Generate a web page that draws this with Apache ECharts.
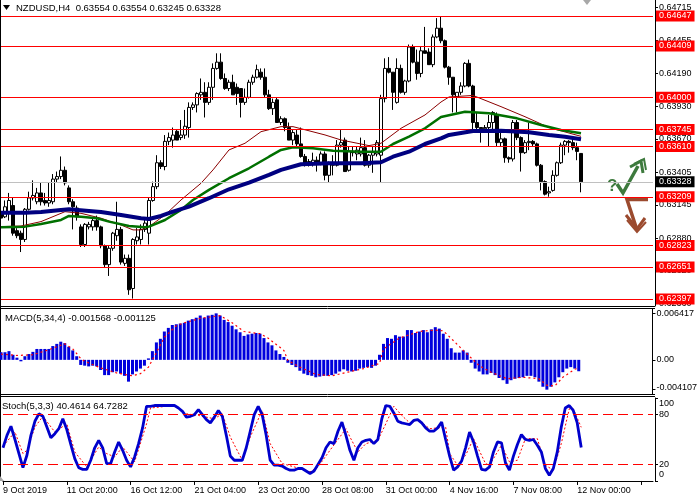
<!DOCTYPE html>
<html><head><meta charset="utf-8">
<script src="https://cdn.jsdelivr.net/npm/echarts@6/dist/echarts.min.js"></script>
<style>html,body{margin:0;padding:0;background:#fff}#c{width:700px;height:500px}</style>
</head><body><div id="c"></div>
<script>
const symbolName = 'NZDUSD,H4';
const tickLabels = ['9 Oct 2019','11 Oct 20:00','16 Oct 12:00','21 Oct 04:00','23 Oct 20:00','28 Oct 08:00','31 Oct 00:00','4 Nov 16:00','7 Nov 08:00','12 Nov 00:00'];
const tickEvery = 16;
const slotCount = 164;
// [open, close, low, high]
const candles = [
[0.6308,0.6304,0.6302,0.6320],[0.6305,0.6313,0.6304,0.6318],[0.6308,0.6318,0.6302,0.6324],[0.6314,0.6292,0.6290,0.6320],
[0.6294,0.6290,0.6288,0.6296],[0.6292,0.6287,0.6277,0.6294],[0.6287,0.6311,0.6285,0.6312],[0.6311,0.6320,0.6310,0.6325],
[0.6320,0.6322,0.6318,0.6334],[0.6317,0.6324,0.6315,0.6328],[0.6324,0.6317,0.6314,0.6332],[0.6318,0.6316,0.6314,0.6324],
[0.6316,0.6318,0.6313,0.6332],[0.6317,0.6335,0.6315,0.6339],[0.6335,0.6337,0.6332,0.6341],[0.6337,0.6342,0.6335,0.6353],
[0.6342,0.6332,0.6330,0.6345],[0.6328,0.6317,0.6315,0.6330],[0.6317,0.6313,0.6295,0.6319],[0.6312,0.6305,0.6302,0.6314],
[0.6297,0.6283,0.6281,0.6299],[0.6283,0.6299,0.6281,0.6300],[0.6297,0.6299,0.6295,0.6301],[0.6297,0.6302,0.6294,0.6304],
[0.6302,0.6297,0.6294,0.6306],[0.6297,0.6282,0.6280,0.6298],[0.6282,0.6267,0.6265,0.6283],[0.6267,0.6280,0.6258,0.6282],
[0.6280,0.6292,0.6278,0.6293],[0.6290,0.6295,0.6286,0.6317],[0.6295,0.6269,0.6267,0.6297],[0.6268,0.6272,0.6266,0.6275],
[0.6272,0.6247,0.6243,0.6275],[0.6248,0.6287,0.6240,0.6288],[0.6286,0.6289,0.6283,0.6296],[0.6287,0.6295,0.6283,0.6299],
[0.6295,0.6300,0.6293,0.6304],[0.6292,0.6318,0.6283,0.6320],[0.6318,0.6329,0.6317,0.6333],[0.6329,0.6348,0.6327,0.6354],
[0.6348,0.6345,0.6343,0.6350],[0.6345,0.6365,0.6342,0.6370],[0.6365,0.6368,0.6362,0.6372],[0.6366,0.6370,0.6360,0.6376],
[0.6373,0.6366,0.6366,0.6374],[0.6368,0.6370,0.6366,0.6382],[0.6370,0.6377,0.6367,0.6390],[0.6376,0.6392,0.6368,0.6396],
[0.6392,0.6394,0.6390,0.6396],[0.6394,0.6403,0.6388,0.6404],[0.6402,0.6404,0.6398,0.6415],[0.6404,0.6396,0.6384,0.6412],
[0.6396,0.6408,0.6394,0.6412],[0.6408,0.6423,0.6398,0.6427],[0.6423,0.6428,0.6422,0.6435],[0.6428,0.6415,0.6414,0.6435],
[0.6415,0.6407,0.6406,0.6419],[0.6407,0.6412,0.6405,0.6414],[0.6412,0.6402,0.6402,0.6418],[0.6408,0.6403,0.6394,0.6411],
[0.6407,0.6396,0.6384,0.6407],[0.6396,0.6400,0.6394,0.6407],[0.6400,0.6412,0.6399,0.6414],[0.6412,0.6416,0.6410,0.6418],
[0.6416,0.6422,0.6415,0.6426],[0.6420,0.6416,0.6414,0.6423],[0.6416,0.6402,0.6400,0.6423],[0.6402,0.6391,0.6390,0.6406],
[0.6391,0.6396,0.6386,0.6399],[0.6398,0.6380,0.6380,0.6400],[0.6380,0.6383,0.6378,0.6385],[0.6383,0.6376,0.6373,0.6384],
[0.6376,0.6366,0.6366,0.6380],[0.6366,0.6372,0.6362,0.6374],[0.6370,0.6363,0.6360,0.6374],[0.6363,0.6353,0.6352,0.6376],
[0.6353,0.6346,0.6345,0.6355],[0.6346,0.6349,0.6345,0.6351],[0.6348,0.6350,0.6345,0.6356],[0.6350,0.6347,0.6341,0.6353],
[0.6347,0.6355,0.6346,0.6357],[0.6355,0.6338,0.6334,0.6357],[0.6338,0.6348,0.6332,0.6349],[0.6348,0.6346,0.6338,0.6354],
[0.6346,0.6362,0.6345,0.6366],[0.6362,0.6364,0.6360,0.6374],[0.6366,0.6341,0.6341,0.6368],[0.6342,0.6357,0.6341,0.6361],
[0.6357,0.6356,0.6353,0.6361],[0.6355,0.6358,0.6350,0.6361],[0.6355,0.6360,0.6353,0.6368],[0.6360,0.6346,0.6345,0.6366],
[0.6346,0.6354,0.6344,0.6355],[0.6354,0.6356,0.6340,0.6361],[0.6355,0.6364,0.6353,0.6366],[0.6354,0.6399,0.6332,0.6402],
[0.6399,0.6423,0.6396,0.6431],[0.6423,0.6420,0.6419,0.6432],[0.6420,0.6404,0.6390,0.6420],[0.6396,0.6423,0.6395,0.6431],
[0.6423,0.6404,0.6403,0.6426],[0.6404,0.6413,0.6402,0.6414],[0.6413,0.6440,0.6412,0.6442],[0.6440,0.6428,0.6427,0.6442],
[0.6428,0.6419,0.6414,0.6438],[0.6419,0.6437,0.6416,0.6440],[0.6437,0.6435,0.6435,0.6456],[0.6436,0.6426,0.6426,0.6439],
[0.6426,0.6448,0.6424,0.6450],[0.6448,0.6455,0.6447,0.6463],[0.6455,0.6445,0.6443,0.6464],[0.6445,0.6424,0.6423,0.6446],
[0.6424,0.6416,0.6410,0.6425],[0.6416,0.6402,0.6388,0.6416],[0.6400,0.6404,0.6388,0.6404],[0.6404,0.6409,0.6402,0.6412],
[0.6409,0.6427,0.6408,0.6428],[0.6427,0.6409,0.6408,0.6430],[0.6409,0.6380,0.6374,0.6410],[0.6380,0.6376,0.6372,0.6388],
[0.6376,0.6375,0.6364,0.6376],[0.6375,0.6376,0.6372,0.6378],[0.6376,0.6380,0.6361,0.6386],[0.6380,0.6388,0.6374,0.6389],
[0.6386,0.6364,0.6361,0.6388],[0.6364,0.6367,0.6361,0.6372],[0.6367,0.6352,0.6348,0.6368],[0.6352,0.6351,0.6348,0.6353],
[0.6351,0.6380,0.6349,0.6382],[0.6380,0.6368,0.6366,0.6382],[0.6368,0.6356,0.6341,0.6369],[0.6356,0.6364,0.6355,0.6366],
[0.6364,0.6365,0.6358,0.6380],[0.6365,0.6363,0.6361,0.6366],[0.6363,0.6346,0.6345,0.6364],[0.6346,0.6333,0.6326,0.6347],
[0.6333,0.6323,0.6322,0.6334],[0.6324,0.6325,0.6321,0.6329],[0.6326,0.6338,0.6325,0.6342],[0.6338,0.6348,0.6337,0.6349],
[0.6348,0.6362,0.6347,0.6364],[0.6362,0.6365,0.6354,0.6366],[0.6365,0.6364,0.6356,0.6366],[0.6364,0.6360,0.6358,0.6368],
[0.6360,0.6357,0.6350,0.6364],[0.63554,0.63328,0.63245,0.63554]
];
const maBlue = [[0,0.63083],[6,0.63083],[10,0.63089],[15,0.63105],[17,0.63110],[22,0.63097],[25,0.63089],[30,0.63065],[35,0.63039],[37,0.63033],[40,0.63057],[43,0.63091],[47,0.63131],[52,0.63198],[57,0.63269],[62,0.63322],[67,0.63383],[70,0.63423],[75,0.63468],[82,0.63476],[90,0.63476],[95,0.63484],[98,0.63528],[102,0.63568],[106,0.63629],[110,0.63674],[112,0.63701],[118,0.63733],[125,0.63735],[132,0.63722],[137,0.63701],[141,0.63687],[145,0.63667]];
const maGreen = [[0,0.62967],[6,0.62972],[10,0.62993],[15,0.63025],[17,0.63057],[20,0.63051],[24,0.63039],[27,0.63012],[32,0.62977],[36,0.62967],[37,0.62972],[41,0.63025],[45,0.63105],[48,0.63184],[52,0.63264],[57,0.63357],[62,0.63436],[67,0.63528],[70,0.63582],[73,0.63603],[78,0.63595],[83,0.63576],[90,0.63568],[95,0.63568],[98,0.63629],[102,0.63687],[106,0.63754],[110,0.63844],[116,0.63886],[122,0.63873],[129,0.63833],[135,0.63780],[140,0.63741],[145,0.63714]];
const maRed = [[0,0.62972],[5,0.62977],[10,0.63012],[16,0.63091],[20,0.63078],[25,0.63039],[30,0.62985],[33,0.62946],[35,0.62946],[37,0.62972],[41,0.63065],[45,0.63184],[50,0.63317],[53,0.63423],[57,0.63582],[61,0.63635],[65,0.63727],[70,0.63767],[73,0.63767],[81,0.63701],[85,0.63661],[90,0.63629],[92,0.63616],[95,0.63635],[100,0.63754],[106,0.63860],[110,0.63963],[112,0.64003],[118,0.64015],[125,0.63926],[131,0.63846],[137,0.63760],[145,0.63690]];
const levels = [0.64647,0.64409,0.64000,0.63745,0.63610,0.63209,0.62823,0.62651,0.62397];
const lastPrice = 0.63328;
const priceTicks = [0.64715,0.64455,0.64190,0.63930,0.63670,0.63405,0.63145,0.62880,0.62620,0.62360];
const macdHist = [
0.00105,0.00105,0.0012,0.0007,0.0003,-0.0002,0.0005,0.0008,0.0011,0.0015,
0.0015,0.0015,0.0015,0.0019,0.0022,0.0025,0.0023,0.0018,0.0013,0.0005,
-0.0007,-0.0008,-0.0009,-0.0008,-0.0009,-0.0014,-0.0021,-0.0021,-0.0017,-0.0016,
-0.0019,-0.0022,-0.0030,-0.0020,-0.0016,-0.0012,-0.0008,0.0002,0.0012,0.0024,
0.0029,0.0039,0.0044,0.0048,0.0049,0.0050,0.0051,0.0054,0.0056,0.0058,
0.0061,0.0058,0.0061,0.0062,0.0064,0.0061,0.0055,0.0052,0.0047,0.0042,
0.0038,0.0033,0.0035,0.0036,0.0037,0.0036,0.0030,0.0024,0.0020,0.0013,
0.0008,0.0004,-0.0004,-0.0007,-0.0010,-0.0015,-0.0019,-0.0021,-0.0022,-0.0024,
-0.0023,-0.0022,-0.0022,-0.0021,-0.0019,-0.0016,-0.0013,-0.0015,-0.0016,-0.0015,
-0.0012,-0.0011,-0.0010,-0.0011,-0.0008,0.0007,0.0022,0.0030,0.0029,0.0034,
0.0032,0.0032,0.0041,0.0041,0.0037,0.0039,0.0041,0.0038,0.0042,0.0045,
0.0043,0.0036,0.0029,0.0016,0.0010,0.0010,0.0013,0.0010,-0.0004,-0.0012,
-0.0016,-0.0020,-0.0020,-0.0018,-0.0021,-0.0025,-0.0028,-0.0033,-0.0028,-0.0026,
-0.0025,-0.0024,-0.0022,-0.0022,-0.0024,-0.0030,-0.0037,-0.0041,-0.0037,-0.0031,
-0.0024,-0.0017,-0.0012,-0.0010,-0.0012,-0.001568
];
const macdSignal = [[0,0.0008],[4,0.0006],[8,0.0007],[12,0.0014],[16,0.0022],[18,0.0015],[20,0.0002],[21,-0.0002],[25,-0.0011],[29,-0.0018],[33,-0.0022],[35,-0.0019],[37,-0.0010],[39,0.0010],[41,0.0031],[44,0.0047],[46,0.0051],[50,0.0057],[55,0.0061],[58,0.0051],[61,0.0039],[65,0.0036],[67,0.0030],[71,0.0013],[72,-0.0001],[75,-0.0010],[79,-0.0020],[83,-0.0022],[87,-0.0017],[91,-0.0012],[95,-0.0005],[96,0.0015],[100,0.0030],[105,0.0039],[109,0.0041],[111,0.0040],[114,0.0024],[116,0.0013],[117,0.0008],[120,-0.0008],[123,-0.0017],[127,-0.0026],[131,-0.0024],[135,-0.0026],[137,-0.0035],[139,-0.0036],[141,-0.0024],[144,-0.0013],[145,-0.001125]];
const macdTicks = [0.006417,0,-0.004107];
const stochMain = [
40,55,66,50,33,16,31,55,72,81,78,65,52,57,63,75,62,44,27,16,
14,14,25,40,49,40,21,21,35,47,37,25,17,29,45,64,90,90,91,91,
91,91,91,91,88,84,77,78,80,86,80,74,70,77,85,78,55,30,25,25,
25,40,60,80,90,80,55,25,19,19,18,15,13,13,15,15,12,9,12,20,
28,40,47,45,60,71,55,37,25,40,47,49,50,45,50,75,91,90,82,72,
70,69,68,73,74,70,64,60,60,64,71,50,30,13,17,24,40,59,47,30,
14,13,17,35,47,46,22,13,30,44,56,50,49,50,43,35,15,7,15,35,
65,88,91,85,70,40.4614
];
const stochSignal = [[0,42],[3,59],[5,33],[6,37],[8,65],[10,78],[13,59],[16,69],[18,35],[21,17],[24,41],[26,33],[28,29],[30,41],[33,23],[36,69],[37,88],[43,91],[46,81],[49,79],[53,75],[55,81],[57,53],[60,25],[62,53],[65,85],[67,45],[70,21],[73,17],[77,11],[79,17],[82,37],[86,63],[87,53],[89,35],[91,45],[94,49],[96,69],[98,90],[100,79],[102,70],[104,74],[107,63],[111,65],[112,33],[114,19],[116,31],[118,51],[121,21],[122,19],[125,43],[127,23],[129,25],[131,51],[134,51],[136,19],[138,13],[140,45],[142,87],[143,87],[145,64.7282]];
const stochLevels = [80,20];
const stochTicks = [100,80,20,0];

const FONT = "'Liberation Sans', Arial, sans-serif";
const cats = Array.from({length: slotCount}, (_, i) => String(i));
const last = candles[candles.length - 1];

function xAx(gi, show) {
  return {
    type: 'category', gridIndex: gi, data: cats, boundaryGap: false,
    axisLine: {show: show, lineStyle: {color: '#000', width: 1}},
    axisTick: {show: show, interval: (i) => i % tickEvery === 0, length: 4, lineStyle: {color: '#000'}},
    axisLabel: {show: show, interval: (i) => i % tickEvery === 0,
      formatter: (v, i) => tickLabels[i / tickEvery] || '',
      align: 'left', margin: 5, fontSize: 9, color: '#000', fontFamily: FONT},
    splitLine: {show: false}
  };
}
const edgeRich = {
  t: {padding: [10, 0, 0, 0], fontSize: 9, fontFamily: FONT, color: '#000'},
  b: {padding: [0, 0, 12, 0], fontSize: 9, fontFamily: FONT, color: '#000'},
  m: {padding: [0, 0, 5, 0], fontSize: 9, fontFamily: FONT, color: '#000'}
};
function yAx(gi, min, max, ticks, fmt) {
  return {
    type: 'value', gridIndex: gi, position: 'right', offset: 2, min: min, max: max, scale: true,
    axisLine: {show: true, lineStyle: {color: '#000', width: 1}},
    axisTick: {show: true, customValues: ticks, length: 3, inside: false, lineStyle: {color: '#000'}},
    axisLabel: {show: true, customValues: ticks, formatter: fmt, margin: 4, fontSize: 9, color: '#000', fontFamily: FONT,
      showMinLabel: true, showMaxLabel: true, hideOverlap: false, rich: edgeRich},
    splitLine: {show: false}
  };
}

const levelData = levels.map(v => ({yAxis: v}));
levelData.push({yAxis: lastPrice, lineStyle: {color: '#c0c0c0', width: 1, type: 'solid'},
  label: {backgroundColor: '#000', color: '#fff'}});

const chart = echarts.init(document.getElementById('c'), null, {renderer: 'canvas'});
chart.setOption({
  animation: false,
  backgroundColor: '#fff',
  grid: [
    {left: 1, top: 0, width: 652, height: 306},
    {left: 1, top: 309, width: 652, height: 85},
    {left: 1, top: 398, width: 652, height: 83}
  ],
  xAxis: [xAx(0, false), xAx(1, false), xAx(2, true)],
  yAxis: [
    yAx(0, 0.62341, 0.64774, priceTicks, v => v.toFixed(5)),
    yAx(1, -0.0047, 0.0070, macdTicks, v => v === 0 ? '0.00' : (v < 0 ? '{m|' + v.toFixed(6) + '}' : v.toFixed(6))),
    yAx(2, -0.05, 100.05, stochTicks, v => v > 99 ? '{t|100}' : (v < 1 ? '{b|0}' : String(Math.round(v))))
  ],
  series: [
    {
      type: 'candlestick', xAxisIndex: 0, yAxisIndex: 0, data: candles, barWidth: 3,
      itemStyle: {color: '#fff', color0: '#000', borderColor: '#000', borderColor0: '#000', borderWidth: 1},
      z: 2,
      markLine: {
        silent: true, symbol: ['none', 'none'], animation: false, precision: 5,
        lineStyle: {color: '#ff0000', width: 1, type: 'solid'},
        label: {show: true, position: 'end', distance: 3, formatter: p => p.value.toFixed(5),
          backgroundColor: '#ff0000', color: '#fff', padding: [1, 3, 0, 3], fontSize: 9, fontFamily: FONT, lineHeight: 10},
        emphasis: {disabled: true},
        data: levelData
      }
    },
    {type: 'line', xAxisIndex: 0, yAxisIndex: 0, data: maRed, showSymbol: false, symbol: 'none', z: 3,
      lineStyle: {color: '#8b0000', width: 1}},
    {type: 'line', xAxisIndex: 0, yAxisIndex: 0, data: maGreen, showSymbol: false, symbol: 'none', z: 4,
      lineStyle: {color: '#007000', width: 2.5}},
    {type: 'line', xAxisIndex: 0, yAxisIndex: 0, data: maBlue, showSymbol: false, symbol: 'none', z: 5,
      lineStyle: {color: '#000080', width: 4}},
    {type: 'bar', xAxisIndex: 1, yAxisIndex: 1, data: macdHist, barWidth: 3, itemStyle: {color: '#0000dd'}},
    {type: 'line', xAxisIndex: 1, yAxisIndex: 1, data: macdSignal, showSymbol: false, symbol: 'none', z: 4,
      lineStyle: {color: '#ff0000', width: 1.2, type: [2, 3]}},
    {type: 'line', xAxisIndex: 2, yAxisIndex: 2, data: stochMain, showSymbol: false, symbol: 'none', z: 4,
      lineStyle: {color: '#0000cc', width: 2.8},
      markLine: {silent: true, symbol: ['none', 'none'], label: {show: false},
        lineStyle: {color: '#ff0000', width: 1, type: [10, 5]}, emphasis: {disabled: true},
        data: stochLevels.map(v => ({yAxis: v}))}},
    {type: 'line', xAxisIndex: 2, yAxisIndex: 2, data: stochSignal, showSymbol: false, symbol: 'none', z: 3,
      lineStyle: {color: '#ff0000', width: 1, type: [2, 2]}}
  ],
  graphic: [
    {type: 'line', shape: {x1: 0.5, y1: 0, x2: 0.5, y2: 481}, style: {stroke: '#000', lineWidth: 1}},
    {type: 'line', shape: {x1: 0, y1: 306.5, x2: 655, y2: 306.5}, style: {stroke: '#000', lineWidth: 1}},
    {type: 'line', shape: {x1: 0, y1: 308.5, x2: 655, y2: 308.5}, style: {stroke: '#000', lineWidth: 1}},
    {type: 'line', shape: {x1: 0, y1: 394.5, x2: 655, y2: 394.5}, style: {stroke: '#000', lineWidth: 1}},
    {type: 'line', shape: {x1: 0, y1: 396.5, x2: 655, y2: 396.5}, style: {stroke: '#000', lineWidth: 1}},
    {type: 'polygon', shape: {points: [[3, 5], [10, 5], [6.5, 10]]}, style: {fill: '#000'}},
    {type: 'text', left: 16, top: 3, style: {text: symbolName + '  ' + [last[0], last[3], last[2], last[1]].map(v => v.toFixed(5)).join(' '), fill: '#000', font: '9.5px ' + FONT}},
    {type: 'text', left: 5, top: 313, style: {text: 'MACD(5,34,4) ' + macdHist[macdHist.length - 1].toFixed(6) + ' ' + macdSignal[macdSignal.length - 1][1].toFixed(6), fill: '#000', font: '9.5px ' + FONT}},
    {type: 'text', left: 2, top: 401, style: {text: 'Stoch(5,3,3) ' + stochMain[stochMain.length - 1].toFixed(4) + ' ' + stochSignal[stochSignal.length - 1][1].toFixed(4), fill: '#000', font: '9.5px ' + FONT}},
    {type: 'polygon', shape: {points: [[583, 0], [591, 0], [587, 5]]}, style: {fill: '#a8a8a8'}},
    {type: 'polygon', shape: {points: [[0, 476], [0, 481], [4, 481]]}, style: {fill: '#a8a8a8'}},
    {type: 'text', left: 607, top: 178, style: {text: '?', fill: '#3d7a3d', font: 'bold 17px ' + FONT}},
    {type: 'polyline', shape: {points: [[617, 184], [623, 193], [638, 166]]}, style: {stroke: '#3d7a3d', lineWidth: 3.5, fill: null}},
    {type: 'polyline', shape: {points: [[630, 167], [641, 161], [643, 173]]}, style: {stroke: '#3d7a3d', lineWidth: 3, fill: null}},
    {type: 'polyline', shape: {points: [[634, 164], [644, 159], [646, 170]]}, style: {stroke: '#3d7a3d', lineWidth: 2, fill: null}},
    {type: 'polyline', shape: {points: [[648, 199.5], [627, 199.5], [636, 227]]}, style: {stroke: '#9b4a2e', lineWidth: 3.5, fill: null}},
    {type: 'polyline', shape: {points: [[626, 215], [637, 229], [645, 218]]}, style: {stroke: '#9b4a2e', lineWidth: 3, fill: null}},
    {type: 'polyline', shape: {points: [[627, 220], [637, 232], [646, 222]]}, style: {stroke: '#9b4a2e', lineWidth: 2, fill: null}}
  ]
});
</script>
</body></html>
